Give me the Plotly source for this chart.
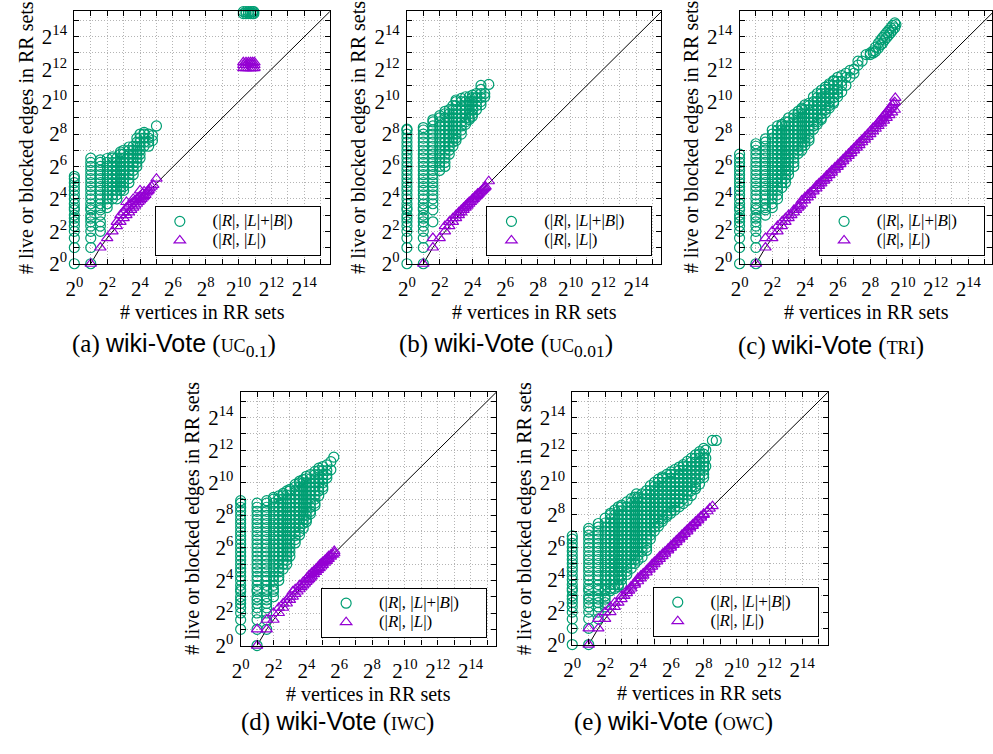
import plotly.graph_objects as go

# ---------------- data ----------------
GREEN = "#009E73"
PURPLE = "#9400D3"

# reference line |L| = |R| - 1
line_x = [2, 3, 4, 5, 6, 8, 10, 12, 16, 20, 24, 32, 48, 64, 128, 256, 512, 1024, 4096, 16384, 65536]
line_y = [1, 2, 3, 4, 5, 7, 9, 11, 15, 19, 23, 31, 47, 63, 127, 255, 511, 1023, 4095, 16383, 65535]

tick_vals = [1, 2, 4, 8, 16, 32, 64, 128, 256, 512, 1024, 2048, 4096, 8192, 16384, 32768]
tick_text = ["2<sup>0</sup>", "", "2<sup>2</sup>", "", "2<sup>4</sup>", "", "2<sup>6</sup>", "",
             "2<sup>8</sup>", "", "2<sup>10</sup>", "", "2<sup>12</sup>", "", "2<sup>14</sup>", ""]

# ---- (a) UC 0.1 ----
a_circ_x = [1, 2, 3, 4, 5, 6, 7, 8, 10, 12, 14, 16, 19, 23, 27, 32, 1250, 1400, 1550, 1700, 1850, 1950]
a_circ_y = [
    [1, 2, 3, 4, 5, 6, 7, 8, 10, 11, 13, 16, 19, 23, 27, 32, 38, 42],
    [1, 2, 3, 4, 5, 6, 7, 8, 10, 11, 13, 16, 19, 23, 27, 32, 38, 45, 54, 64, 76, 91],
    [4, 5, 6, 8, 10, 11, 13, 16, 19, 23, 27, 32, 38, 45, 54, 64, 76, 85],
    [11, 13, 16, 19, 23, 27, 32, 38, 45, 54, 64, 76, 90],
    [16, 19, 23, 27, 32, 38, 45, 54, 64, 76, 91, 97],
    [16, 19, 23, 27, 32, 38, 45, 54, 64, 76, 91],
    [23, 27, 32, 38, 45, 54, 64, 76, 91, 108, 119],
    [23, 27, 32, 38, 45, 54, 64, 76, 91, 108, 128],
    [32, 38, 45, 54, 64, 76, 91, 108, 128, 147],
    [45, 54, 64, 76, 91, 108, 128, 152],
    [64, 76, 91, 108, 128, 152, 181, 215],
    [91, 108, 128, 152, 181, 215, 256],
    [152, 181, 215, 256, 274],
    [152, 181, 215, 256],
    [194, 240],
    [362],
    [44000, 48000, 52000],
    [44000, 48000, 52000],
    [44000, 48000, 52000],
    [44000, 48000, 52000],
    [44000, 48000, 52000],
    [44000, 48000, 52000],
]
a_tri_x = [2, 3, 4, 5, 6, 6, 7, 7, 8, 8, 9, 9, 9, 10, 10, 11, 11, 12, 12, 12, 13, 13, 14, 14, 15, 15,
           16, 16, 16, 17, 18, 18, 19, 19, 20, 21, 22, 23, 24, 26, 28, 32,
           1250, 1250, 1250, 1400, 1400, 1400, 1550, 1550, 1550, 1700, 1700, 1700, 1850, 1850, 1850, 2000, 2000, 2000]
a_tri_y = [1, 2, 3, 4, 5, 6, 6, 8, 7, 9, 8, 11, 14, 9, 12, 10, 13, 11, 14, 16, 12, 15, 13, 16, 14, 17,
           15, 18, 23, 16, 17, 20, 18, 22, 19, 21, 22, 23, 25, 27, 29, 38,
           4300, 4900, 5500, 4300, 4900, 5500, 4300, 4900, 5500, 4300, 4900, 5500, 4300, 4900, 5500, 4300, 4900, 5500]

# ---- (b) UC 0.01 ----
b_circ_x = [1, 2, 3, 4, 5, 6, 7, 8, 10, 12, 14, 16, 19, 23, 27, 32]
b_circ_y = [
    [1, 2, 3, 4, 5, 6, 7, 8, 10, 11, 13, 16, 19, 23, 27, 32, 38, 45, 54, 64, 76, 91, 108, 128, 152, 181, 215, 256, 304, 315],
    [1, 2, 3, 4, 5, 6, 7, 8, 10, 11, 13, 16, 19, 23, 27, 32, 38, 45, 54, 64, 76, 91, 108, 128, 152, 181, 215, 256, 304, 338],
    [6, 10, 13, 16, 19, 23, 27, 32, 38, 45, 54, 64, 76, 91, 108, 128, 152, 181, 215, 256, 304, 362, 431, 470],
    [54, 64, 76, 91, 108, 128, 152, 181, 215, 256, 304, 362, 431, 512, 560],
    [64, 76, 91, 108, 128, 152, 181, 215, 256, 304, 362, 431, 512, 609, 676],
    [108, 128, 152, 181, 215, 256, 304, 362, 431, 512, 609, 724],
    [152, 181, 215, 256, 304, 362, 431, 512, 609, 724, 861],
    [194, 215, 256, 304, 362, 431, 512, 609, 724, 861, 1024, 1097],
    [256, 304, 362, 431, 512, 609, 724, 861, 1024, 1176],
    [388, 431, 512, 609, 724, 861, 1024, 1260],
    [478, 512, 609, 724, 861, 1024, 1260],
    [549, 609, 724, 861, 1024, 1218, 1351],
    [724, 861, 1024, 1218, 1448],
    [891, 1024, 1218, 1448, 1722, 2048],
    [1260, 1448],
    [2135],
]
b_tri_x = [2, 3, 3, 4, 5, 5, 6, 6, 7, 7, 8, 8, 9, 9, 10, 10, 11, 11, 12, 12, 13, 13, 14, 14, 15, 16, 16,
           17, 18, 18, 19, 20, 20, 21, 22, 23, 24, 25, 26, 27, 28, 32]
b_tri_y = [1, 2, 3, 3, 4, 5, 5, 6, 6, 7, 7, 8, 8, 9, 9, 10, 10, 11, 11, 12, 12, 13, 13, 14, 14, 15, 16,
           16, 17, 18, 18, 19, 20, 20, 21, 22, 23, 24, 25, 26, 27, 34]

# ---- (c) TRI ----
c_circ_x = [1, 2, 3, 4, 5, 6, 7, 8, 10, 12, 14, 16, 19, 23, 27, 32, 38, 45, 54, 64, 76, 91, 108, 128,
            152, 181, 215, 256, 290, 320, 362, 400, 431, 470, 512, 560, 609, 660, 724, 760]
c_circ_y = [
    [1, 2, 3, 4, 5, 6, 7, 8, 10, 11, 13, 16, 19, 23, 27, 32, 38, 45, 54, 64, 76, 91, 108],
    [1, 2, 3, 4, 5, 6, 7, 8, 10, 11, 13, 16, 19, 23, 27, 32, 38, 45, 54, 64, 76, 91, 108, 128, 152, 169],
    [8, 10, 11, 13, 16, 19, 23, 27, 32, 38, 45, 54, 64, 76, 91, 108, 128, 152, 181, 208],
    [11, 13, 16, 19, 23, 27, 32, 38, 45, 54, 64, 76, 91, 108, 128, 152, 181, 215, 256, 304],
    [16, 19, 23, 27, 32, 38, 45, 54, 64, 76, 91, 108, 128, 152, 181, 215, 256, 304, 362],
    [26, 32, 38, 45, 54, 64, 76, 91, 108, 128, 152, 181, 215, 256, 304, 362, 388],
    [32, 38, 45, 54, 64, 76, 91, 108, 128, 152, 181, 215, 256, 304, 362, 431],
    [45, 54, 64, 76, 91, 108, 128, 152, 181, 215, 256, 304, 362, 431, 512],
    [64, 76, 91, 108, 128, 152, 181, 215, 256, 304, 362, 431, 512, 588],
    [111, 128, 152, 181, 215, 256, 304, 362, 431, 512, 609, 676],
    [128, 152, 181, 215, 256, 304, 362, 431, 512, 609, 724, 776],
    [158, 181, 215, 256, 304, 362, 431, 512, 609, 724, 891],
    [194, 215, 256, 304, 362, 431, 512, 609, 724, 861, 955],
    [315, 362, 431, 512, 609, 724, 861, 1024, 1260],
    [388, 431, 512, 609, 724, 861, 1024, 1218, 1448],
    [478, 512, 609, 724, 861, 1024, 1218, 1448, 1663],
    [630, 724, 861, 1024, 1218, 1448, 1722, 1910],
    [776, 861, 1024, 1218, 1448, 1722, 2048, 2195],
    [955, 1024, 1218, 1448, 1722, 2048, 2435, 2521],
    [1260, 1448, 1722, 2048, 2435, 2896],
    [1552, 2048, 2435, 3104],
    [2048, 2896, 3444],
    [2896, 3896],
    [3444, 4096],
    [4871, 5793],
    [5793],
    [7643],
    [7643, 8192],
    [8192, 9000],
    [8780, 10500],
    [10086, 12417],
    [11585, 14263],
    [12417, 15820],
    [14263, 17560],
    [15820, 19484],
    [17560, 21619],
    [19484, 23987],
    [21619, 26616],
    [23987, 29552],
    [27554],
]
c_tri_x = [2, 3, 3, 4, 4, 5, 5, 6, 6, 7, 7, 8, 8, 9, 10, 10, 11, 12, 12, 13, 14, 14, 16, 16, 18, 18,
           20, 20, 23, 23, 26, 26, 29, 29, 32, 32, 36, 36, 40, 40, 45, 45, 50, 50, 57, 57, 64, 64,
           72, 72, 81, 81, 91, 91, 102, 102, 114, 114, 128, 128, 144, 144, 161, 161, 181, 181,
           203, 203, 228, 228, 256, 256, 287, 287, 322, 322, 340, 362, 362, 380, 406, 406, 430,
           456, 456, 480, 512, 512, 540, 575, 575, 610, 645, 645, 680, 724, 724, 740]
c_tri_y = [1, 2, 3, 3, 4, 4, 5, 5, 6, 6, 7, 7, 8, 8, 9, 10, 10, 11, 12, 12, 13, 15, 15, 17, 17, 19,
           19, 21, 22, 24, 25, 28, 28, 31, 31, 34, 35, 38, 39, 43, 44, 48, 49, 54, 56, 61, 63, 68,
           71, 77, 80, 87, 90, 98, 101, 110, 113, 124, 127, 140, 143, 158, 160, 178, 180, 200,
           202, 225, 227, 254, 255, 290, 286, 330, 321, 360, 390, 361, 420, 450, 405, 480, 520,
           455, 560, 600, 511, 640, 700, 574, 750, 800, 644, 880, 950, 723, 1000, 1200]

# ---- (d) IWC ----
d_circ_x = [1, 2, 3, 4, 5, 6, 7, 8, 10, 12, 14, 16, 19, 23, 27, 32, 38, 45, 51]
d_circ_y = [
    [2, 3, 4, 5, 6, 7, 8, 10, 11, 13, 16, 19, 23, 27, 32, 38, 45, 54, 64, 76, 91, 108, 128, 152, 181, 215, 256, 304, 362, 431, 478],
    [1, 2, 3, 4, 5, 6, 7, 8, 10, 11, 13, 16, 19, 23, 27, 32, 38, 45, 54, 64, 76, 91, 108, 128, 152, 181, 215, 256, 304, 362, 431],
    [2, 3, 4, 5, 6, 7, 8, 10, 11, 13, 16, 19, 23, 27, 32, 38, 45, 54, 64, 76, 91, 108, 128, 152, 181, 215, 256, 304, 362, 431, 478],
    [8, 10, 11, 13, 16, 19, 23, 27, 32, 38, 45, 54, 64, 76, 91, 108, 128, 152, 181, 215, 256, 304, 362, 431, 512, 549],
    [16, 19, 23, 27, 32, 38, 45, 54, 64, 76, 91, 108, 128, 152, 181, 215, 256, 304, 362, 431, 512, 588],
    [26, 32, 38, 45, 54, 64, 76, 91, 108, 128, 152, 181, 215, 256, 304, 362, 431, 512, 609, 652],
    [32, 38, 45, 54, 64, 76, 91, 108, 128, 152, 181, 215, 256, 304, 362, 431, 512, 609, 724],
    [45, 54, 64, 76, 91, 108, 128, 152, 181, 215, 256, 304, 362, 431, 512, 609, 724, 776],
    [79, 91, 108, 128, 152, 181, 215, 256, 304, 362, 431, 512, 609, 724, 861, 955],
    [111, 128, 152, 181, 215, 256, 304, 362, 431, 512, 609, 724, 861, 1024, 1097],
    [147, 181, 215, 256, 304, 362, 431, 512, 609, 724, 861, 1024, 1176],
    [194, 215, 256, 304, 362, 431, 512, 609, 724, 861, 1024, 1218, 1351],
    [274, 304, 362, 431, 512, 609, 724, 861, 1024, 1218, 1448],
    [388, 431, 512, 609, 724, 861, 1024, 1218, 1448, 1663],
    [588, 724, 861, 1024, 1218, 1448, 1722, 1910],
    [776, 861, 1024, 1218, 1448, 1722, 2048],
    [1260, 1448, 1722, 2195],
    [1782, 2521],
    [3061],
]
d_tri_x = [2, 2, 3, 3, 4, 4, 5, 5, 6, 6, 7, 7, 8, 8, 9, 9, 10, 10, 11, 12, 12, 13, 14, 14, 15, 16, 16,
           17, 18, 18, 19, 20, 20, 22, 22, 24, 24, 26, 26, 28, 28, 30, 30, 32, 32, 35, 35, 38, 38,
           41, 41, 45, 45, 49, 52, 52]
d_tri_y = [1, 2, 2, 3, 3, 4, 4, 5, 5, 6, 6, 7, 7, 8, 8, 10, 9, 11, 10, 11, 13, 12, 13, 15, 14, 15, 17,
           16, 17, 20, 18, 19, 22, 21, 24, 23, 26, 25, 28, 27, 31, 29, 33, 31, 35, 34, 38, 37, 41,
           40, 45, 44, 48, 48, 51, 56]

# ---- (e) OWC ----
e_circ_x = [1, 2, 3, 4, 5, 6, 7, 8, 10, 12, 14, 15, 16, 19, 23, 27, 32, 38, 45, 54, 64, 76, 91, 108,
            128, 152, 181, 215, 256, 280, 370, 436]
e_circ_y = [
    [1, 2, 3, 4, 5, 6, 7, 8, 10, 11, 13, 16, 19, 23, 27, 32, 38, 45, 54, 64, 76, 91, 104],
    [1, 2, 3, 4, 5, 6, 7, 8, 10, 11, 13, 16, 19, 23, 27, 32, 38, 45, 54, 64, 76, 91, 108, 128, 144],
    [3, 4, 5, 6, 7, 8, 10, 11, 13, 16, 19, 23, 27, 32, 38, 45, 54, 64, 76, 91, 108, 128, 152, 177],
    [5, 6, 7, 8, 10, 11, 13, 16, 19, 23, 27, 32, 38, 45, 54, 64, 76, 91, 108, 128, 152, 181, 222],
    [10, 11, 13, 16, 19, 23, 27, 32, 38, 45, 54, 64, 76, 91, 108, 128, 152, 181, 215, 256, 274],
    [11, 13, 16, 19, 23, 27, 32, 38, 45, 54, 64, 76, 91, 108, 128, 152, 181, 215, 256, 315],
    [12, 13, 16, 19, 23, 27, 32, 38, 45, 54, 64, 76, 91, 108, 128, 152, 181, 215, 256, 304, 362],
    [13, 16, 19, 23, 27, 32, 38, 45, 54, 64, 76, 91, 108, 128, 152, 181, 215, 256, 304, 362, 388],
    [20, 23, 27, 32, 38, 45, 54, 64, 76, 91, 108, 128, 152, 181, 215, 256, 304, 362, 446],
    [26, 32, 38, 45, 54, 64, 76, 91, 108, 128, 152, 181, 215, 256, 304, 362, 431, 512],
    [32, 38, 45, 54, 64, 76, 91, 108, 128, 152, 181, 215, 256, 304, 362, 431, 549],
    [626],
    [37, 45, 54, 64, 76, 91, 108, 128, 152, 181, 215, 256, 304, 362, 431, 512, 549],
    [42, 54, 64, 76, 91, 108, 128, 152, 181, 215, 256, 304, 362, 431, 512, 630],
    [56, 64, 76, 91, 108, 128, 152, 181, 215, 256, 304, 362, 431, 512, 609, 724],
    [91, 108, 128, 152, 181, 215, 256, 304, 362, 431, 512, 609, 724, 891],
    [128, 152, 181, 215, 256, 304, 362, 431, 512, 609, 724, 861, 1024],
    [158, 181, 215, 256, 304, 362, 431, 512, 609, 724, 861, 1024, 1176],
    [194, 215, 256, 304, 362, 431, 512, 609, 724, 861, 1024, 1218, 1305],
    [239, 256, 304, 362, 431, 512, 609, 724, 861, 1024, 1218, 1448],
    [274, 304, 362, 431, 512, 609, 724, 861, 1024, 1218, 1448, 1607],
    [315, 362, 431, 512, 609, 724, 861, 1024, 1218, 1448, 1782],
    [362, 431, 512, 609, 724, 861, 1024, 1218, 1448, 1722, 1978],
    [416, 512, 609, 724, 861, 1024, 1218, 1448, 1722, 2048, 2195],
    [478, 609, 724, 861, 1024, 1218, 1448, 1722, 2048, 2521],
    [588, 724, 861, 1024, 1218, 1448, 1722, 2048, 2435, 2896],
    [776, 861, 1024, 1218, 1448, 1722, 2048, 2435, 2896, 3327],
    [955, 1218, 1448, 1722, 2048, 2435, 2896, 3444, 3822],
    [1260, 1448, 1722, 2048, 2435, 2896, 3444, 4390],
    [2048, 2896, 4096],
    [6165],
    [6165],
]
e_tri_x = [2, 2, 3, 3, 4, 4, 5, 5, 6, 6, 7, 8, 8, 9, 10, 10, 11, 12, 12, 14, 14, 16, 16, 18, 18, 20, 20,
           23, 23, 26, 26, 29, 29, 32, 32, 36, 36, 40, 40, 45, 45, 50, 50, 57, 57, 64, 64, 72, 72,
           81, 81, 91, 91, 102, 102, 114, 114, 128, 128, 144, 144, 161, 161, 181, 181, 203, 203,
           228, 228, 256, 256, 300, 330, 372]
e_tri_y = [1, 2, 2, 3, 3, 4, 4, 5, 5, 6, 6, 7, 8, 8, 9, 10, 10, 11, 12, 13, 14, 15, 17, 17, 19, 19, 21,
           22, 24, 25, 27, 28, 31, 31, 34, 35, 38, 39, 43, 44, 48, 49, 53, 56, 60, 63, 68, 71, 76,
           80, 86, 90, 96, 101, 108, 113, 121, 127, 136, 143, 152, 160, 170, 180, 190, 202, 212,
           227, 240, 255, 268, 299, 335, 371]

NB = "\u00a0"
legend_circle = "<span style='font-size:17px'>" + NB * 3 + "(|<i>R</i>|, |<i>L</i>|+|<i>B</i>|)" + NB * 5 + "</span>"
legend_tri = "<span style='font-size:17px'>" + NB * 3 + "(|<i>R</i>|, |<i>L</i>|)</span>"

# ---------------- layout geometry ----------------
W, H = 993, 754
FONT = "Liberation Serif"

panels = [
    # key, circ cols, circ ys, tri x, tri y, plot box px (x0, x1, y0, y1), x range log2, caption
    ("a", a_circ_x, a_circ_y, a_tri_x, a_tri_y, (66, 324, 11, 268), 15.55,
     "(a) <span style='font-family:Liberation Sans'>wiki-Vote</span> (<span style='font-size:18px'>UC</span><sub>0.1</sub>)",
     167, 351),
    ("b", b_circ_x, b_circ_y, b_tri_x, b_tri_y, (402, 659, 11, 268), 15.55,
     "(b) <span style='font-family:Liberation Sans'>wiki-Vote</span> (<span style='font-size:18px'>UC</span><sub>0.01</sub>)",
     502, 351),
    ("c", c_circ_x, c_circ_y, c_tri_x, c_tri_y, (738, 993, 11, 268), 15.45,
     "(c) <span style='font-family:Liberation Sans'>wiki-Vote</span> (<span style='font-size:18px'>TRI</span>)",
     830, 351),
    ("d", d_circ_x, d_circ_y, d_tri_x, d_tri_y, (234, 492, 398, 656), 15.55,
     "(d) <span style='font-family:Liberation Sans'>wiki-Vote</span> (<span style='font-size:18px'>IWC</span>)",
     332, 733),
    ("e", e_circ_x, e_circ_y, e_tri_x, e_tri_y, (569, 827, 398, 655), 15.55,
     "(e) <span style='font-family:Liberation Sans'>wiki-Vote</span> (<span style='font-size:18px'>OWC</span>)",
     671, 733),
]

LOG2 = 0.30102999566
fig = go.Figure()
layout = dict(width=W, height=H, margin=dict(l=0, r=0, t=0, b=0),
              paper_bgcolor="white", plot_bgcolor="white", annotations=[])

for i, (key, cx, cy, tx, ty, box, xr, cap, capx, capy) in enumerate(panels):
    n = "" if i == 0 else str(i + 1)
    xa, ya = "x" + n, "y" + n
    lg = "legend" + n
    x0, x1, y0, y1 = box
    gx, gy = [], []
    for col, ys in zip(cx, cy):
        gx += [col] * len(ys)
        gy += ys
    fig.add_trace(go.Scatter(x=line_x, y=line_y, mode="lines", line=dict(color="black", width=1),
                             showlegend=False, xaxis=xa, yaxis=ya, hoverinfo="skip"))
    fig.add_trace(go.Scatter(x=gx, y=gy, mode="markers", cliponaxis=False, name=legend_circle,
                             marker=dict(symbol="circle-open", size=10, color=GREEN, line=dict(width=1.2)),
                             xaxis=xa, yaxis=ya, legend=lg))
    fig.add_trace(go.Scatter(x=tx, y=ty, mode="markers", cliponaxis=False, name=legend_tri,
                             marker=dict(symbol="triangle-up-open", size=10, color=PURPLE, line=dict(width=1.2)),
                             xaxis=xa, yaxis=ya, legend=lg))
    common = dict(type="log", tickvals=tick_vals, ticktext=tick_text, ticks="inside", ticklen=5,
                  tickwidth=1, tickcolor="black", showline=True, linecolor="black", linewidth=1.2,
                  mirror="ticks", showgrid=True, gridcolor="#b4b4b4", griddash="1px,2px", gridwidth=1,
                  zeroline=False, tickfont=dict(family=FONT, size=21, color="black"))
    layout["xaxis" + n] = dict(common, domain=[x0 / W, x1 / W], range=[0, xr * LOG2], anchor=ya,
                               ticklabelstandoff=6)
    layout["yaxis" + n] = dict(common, domain=[1 - y1 / H, 1 - y0 / H], range=[0, 15.6 * LOG2], anchor=xa,
                               ticklabelstandoff=2)
    layout[lg] = dict(x=(x1 - 9 if key != "c" else 986) / W, y=1 - (y1 - 8) / H, xanchor="right",
                      yanchor="bottom", bordercolor="black", borderwidth=1, bgcolor="white",
                      font=dict(family=FONT, size=12, color="black"), tracegroupgap=0,
                      indentation=4)
    cxp = (x0 + x1) / 2 if key != "c" else (738 + 995) / 2
    layout["annotations"] += [
        dict(text="# live or blocked edges in RR sets", textangle=-90, x=(x0 - 49) / W,
             y=1 - ((y0 + y1) / 2) / H, xref="paper", yref="paper", showarrow=False,
             xanchor="center", yanchor="middle", font=dict(family=FONT, size=20, color="black")),
        dict(text="# vertices in RR sets", x=cxp / W, y=1 - (y1 + 49) / H, xref="paper", yref="paper",
             showarrow=False, xanchor="center", yanchor="middle",
             font=dict(family=FONT, size=20, color="black")),
        dict(text=cap, x=capx / W, y=1 - capy / H, xref="paper", yref="paper", showarrow=False,
             xanchor="center", yanchor="middle", font=dict(family=FONT, size=25, color="black")),
    ]

fig.update_layout(**layout)
fig.write_html("out.html")
